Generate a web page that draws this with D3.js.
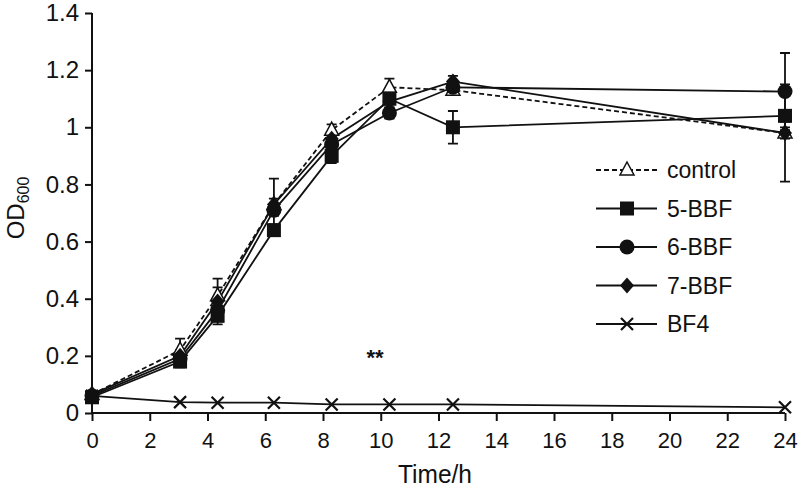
<!DOCTYPE html>
<html><head><meta charset="utf-8">
<script src="https://cdn.jsdelivr.net/npm/d3@7"></script>
<style>body{margin:0;background:#fff}svg{display:block}text{font-family:"Liberation Sans",Arial,sans-serif;fill:#111}</style>
</head><body><div id="c"></div>
<script>
const times = [0, 3.05, 4.35, 6.3, 8.3, 10.3, 12.5, 24];
const xTicks = [0,2,4,6,8,10,12,14,16,18,20,22,24];
const yTicks = [0,0.2,0.4,0.6,0.8,1,1.2,1.4];
const seriesNames = ["control","5-BBF","6-BBF","7-BBF","BF4"];
const control = [0.065, 0.22, 0.41, 0.73, 0.99, 1.14, 1.13, 0.98];
const bbf5    = [0.055, 0.18, 0.34, 0.64, 0.90, 1.10, 1.00, 1.04];
const bbf6    = [0.06, 0.19, 0.36, 0.71, 0.94, 1.05, 1.14, 1.125];
const bbf7    = [0.065, 0.20, 0.39, 0.73, 0.96, 1.09, 1.16, 0.98];
const bf4     = [0.06, 0.038, 0.036, 0.036, 0.03, 0.03, 0.03, 0.02];
const controlErr = [0.01, 0.04, 0.06, 0.02, 0.02, 0.03, 0.01, 0.17];
const bbf5Err = [0.01, 0.02, 0.03, 0.02, 0.025, 0.02, 0.057, 0.02];
const bbf6Err = [0.01, 0.02, 0.03, 0.02, 0.02, 0.02, 0.02, 0.135];
const bbf7Err = [0.01, 0.02, 0.05, 0.09, 0.02, 0.02, 0.02, 0.02];
const bf4Err  = [0, 0, 0, 0, 0, 0, 0, 0];

const W=800,H=490;
const svg=d3.select("#c").append("svg").attr("width",W).attr("height",H);
const x=d3.scaleLinear().domain([0,24]).range([92,785]);
const y=d3.scaleLinear().domain([0,1.4]).range([413,13]);

const series=[
 {name:seriesNames[0],vals:control,err:controlErr,shape:"tri",dash:"5,3"},
 {name:seriesNames[1],vals:bbf5,err:bbf5Err,shape:"sq",dash:null},
 {name:seriesNames[2],vals:bbf6,err:bbf6Err,shape:"circ",dash:null},
 {name:seriesNames[3],vals:bbf7,err:bbf7Err,shape:"dia",dash:null},
 {name:seriesNames[4],vals:bf4,err:bf4Err,shape:"x",dash:null}
];

// axes
const xa=svg.append("g").attr("transform","translate(0,"+y(0)+")")
 .call(d3.axisBottom(x).tickValues(xTicks).tickSize(8).tickSizeOuter(0).tickPadding(11).tickFormat(d=>d));
const ya=svg.append("g").attr("transform","translate("+x(0)+",0)")
 .call(d3.axisLeft(y).tickValues(yTicks).tickSize(7).tickSizeOuter(0).tickPadding(6).tickFormat(d=>d));
[xa,ya].forEach(a=>{a.select(".domain").attr("stroke","#111").attr("stroke-width",2);
 a.selectAll(".tick line").attr("stroke","#111").attr("stroke-width",2);
 a.selectAll("text").style("font-family","'Liberation Sans',Arial,sans-serif").attr("fill","#111");});
xa.selectAll("text").style("font-size","22px");
ya.selectAll("text").style("font-size","24px");
xa.select(".domain").attr("d","M"+(x(0)-1)+",0H"+x(24));
ya.select(".domain").attr("d","M0,"+y(0)+"V"+y(1.4));

svg.append("text").attr("x",398).attr("y",483).attr("text-anchor","start").style("font-size","26px")
 .attr("textLength",74).attr("lengthAdjust","spacingAndGlyphs").text("Time/h");
const yt=svg.append("text").attr("transform","translate(24,208) rotate(-90)").attr("text-anchor","middle").style("font-size","24px");
yt.append("tspan").text("OD");
yt.append("tspan").attr("dy",5).style("font-size","16px").text("600");

svg.append("text").attr("x",375).attr("y",365).attr("text-anchor","middle").style("font-size","22px").style("font-weight","bold").text("**");

function marker(g,shape,cx,cy){
 if(shape==="sq") g.append("rect").attr("x",cx-7).attr("y",cy-7).attr("width",14).attr("height",14).attr("fill","#111");
 else if(shape==="circ") g.append("circle").attr("cx",cx).attr("cy",cy).attr("r",7.5).attr("fill","#111");
 else if(shape==="dia") g.append("path").attr("d",`M${cx},${cy-8}L${cx+7},${cy}L${cx},${cy+8}L${cx-7},${cy}Z`).attr("fill","#111");
 else if(shape==="tri") g.append("path").attr("d",`M${cx},${cy-8}L${cx+7},${cy+5}L${cx-7},${cy+5}Z`).attr("fill","#fff").attr("stroke","#111").attr("stroke-width",1.5);
 else if(shape==="x") g.append("path").attr("d",`M${cx-6},${cy-6}L${cx+6},${cy+6}M${cx+6},${cy-6}L${cx-6},${cy+6}`).attr("stroke","#111").attr("stroke-width",2.2);
}

const line=d3.line().x(d=>x(d[0])).y(d=>y(d[1]));
series.forEach(s=>{
 const pts=times.map((t,i)=>[t,s.vals[i]]);
 svg.append("path").attr("d",line(pts)).attr("fill","none").attr("stroke","#111").attr("stroke-width",1.8)
  .attr("stroke-dasharray",s.dash);
});
series.forEach(s=>{
 const g=svg.append("g");
 times.forEach((t,i)=>{
  const e=s.err[i]; if(!e) return;
  const cx=x(t),y1=y(s.vals[i]+e),y2=y(s.vals[i]-e);
  g.append("path").attr("d",`M${cx},${y1}V${y2}M${cx-5},${y1}H${cx+5}M${cx-5},${y2}H${cx+5}`)
   .attr("stroke","#111").attr("stroke-width",1.8).attr("fill","none");
 });
});
series.forEach(s=>{
 const g=svg.append("g");
 times.forEach((t,i)=>marker(g,s.shape,x(t),y(s.vals[i])));
});

// legend
series.forEach((s,i)=>{
 const ly=170+i*38.5;
 const g=svg.append("g");
 g.append("line").attr("x1",596).attr("x2",657).attr("y1",ly).attr("y2",ly).attr("stroke","#111").attr("stroke-width",1.8).attr("stroke-dasharray",s.dash);
 marker(g,s.shape,627,ly);
 g.append("text").attr("x",667).attr("y",ly+8).style("font-size","23px").text(s.name);
});
</script></body></html>
